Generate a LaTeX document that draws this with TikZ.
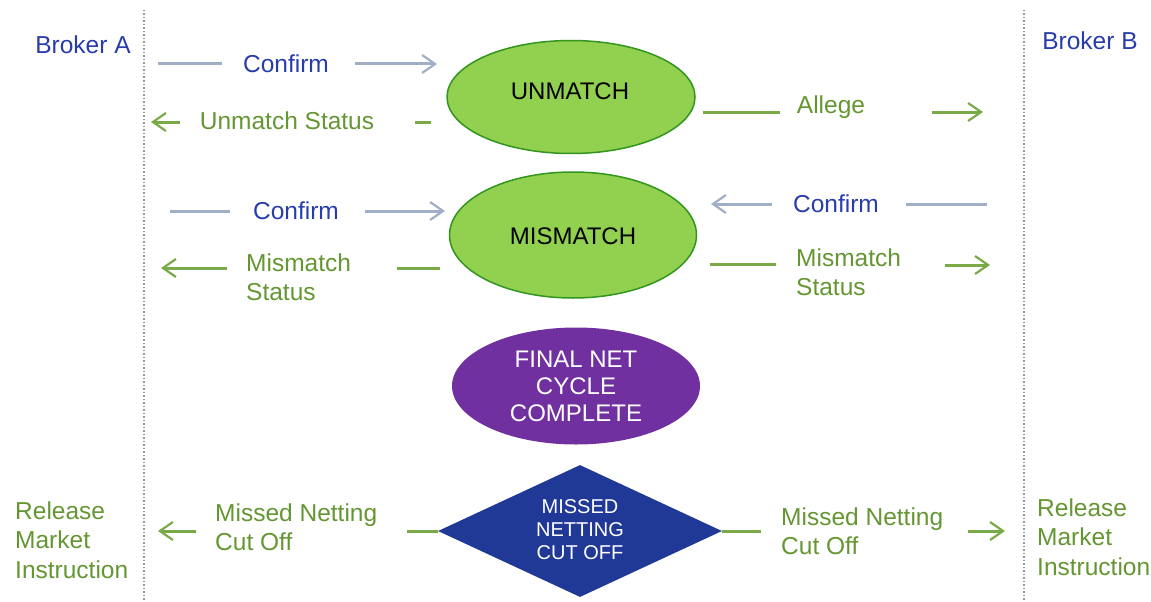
\documentclass[tikz,border=0pt]{standalone}
\usepackage{fontspec}
\setmainfont{Liberation Sans}
\usetikzlibrary{shapes.geometric,arrows.meta}
\definecolor{btxt}{RGB}{40,60,170}
\definecolor{gtxt}{RGB}{100,150,50}
\definecolor{bline}{RGB}{160,175,198}
\definecolor{gline}{RGB}{122,170,72}
\definecolor{egreen}{RGB}{146,208,80}
\definecolor{eborder}{RGB}{50,150,30}
\definecolor{epurple}{RGB}{112,48,160}
\definecolor{dblue}{RGB}{32,56,150}
\definecolor{dotgray}{RGB}{150,150,150}
\tikzset{
  lbl/.style={inner sep=0pt,font=\fontsize{24.5}{29}\selectfont},
  bluelbl/.style={lbl,text=btxt},
  greenlbl/.style={lbl,text=gtxt,align=left},
  bseg/.style={draw=bline,line width=3pt},
  gseg/.style={draw=gline,line width=3pt},
  tip/.style={-{Straight Barb[length=13pt,width=18pt,line width=2.2pt]}},
  ellnode/.style={ellipse,inner sep=0pt,font=\fontsize{24}{27}\selectfont,align=center,line width=1.5pt},
  divider/.style={draw=dotgray,line width=1.5pt,dotted}
}
\begin{document}
\begin{tikzpicture}[x=1pt,y=-1pt]
\useasboundingbox (0,0) rectangle (1151,602);
% dividers
\coordinate (lt) at (144,10); \coordinate (lb) at (144,602);
\coordinate (rt) at (1024,10); \coordinate (rb) at (1024,602);
\draw[divider] (lt) -- (lb);
\draw[divider] (rt) -- (rb);
% shapes
\node[ellnode,fill=egreen,draw=eborder,minimum width=248pt,minimum height=113pt] (unm) at (571,97) {};
\node[lbl,font=\fontsize{24}{27}\selectfont] (unmt) at (570,91) {UNMATCH};
\node[ellnode,fill=egreen,draw=eborder,minimum width=247pt,minimum height=126pt] (mis) at (573,235) {};
\node[lbl,font=\fontsize{24}{27}\selectfont] (mist) at (573,236) {MISMATCH};
\node[ellnode,fill=epurple,minimum width=248pt,minimum height=117pt,text=white] (fin) at (576,386) {FINAL NET\\CYCLE\\COMPLETE};
\node[diamond,fill=dblue,inner sep=0pt,minimum width=284pt,minimum height=132pt] (dia) at (580,531) {};
\node[inner sep=0pt,text=white,align=center,font=\fontsize{20}{23}\selectfont] (diat) at (580,530) {MISSED\\NETTING\\CUT OFF};
% broker labels
\node[bluelbl] (ba) at (83,45) {Broker A};
\node[bluelbl] (bb) at (1090,41) {Broker B};
% row 1 confirm
\node[bluelbl] (c1) at (286,64) {Confirm};
\coordinate (c1a) at (158,64); \coordinate (c1b) at (222,64);
\coordinate (c1c) at (355,64); \coordinate (c1d) at (437,64);
\draw[bseg] (c1a) -- (c1b);
\draw[bseg,tip] (c1c) -- (c1d);
% unmatch status
\node[greenlbl] (us) at (287,121) {Unmatch Status};
\coordinate (usa) at (180,122); \coordinate (usb) at (151,122);
\coordinate (usc) at (415,122); \coordinate (usd) at (431,122);
\draw[gseg,tip] (usa) -- (usb);
\draw[gseg] (usc) -- (usd);
% allege
\node[greenlbl] (al) at (831,107) {Allege};
\coordinate (ala) at (703,112); \coordinate (alb) at (780,112);
\coordinate (alc) at (932,112); \coordinate (ald) at (983,112);
\draw[gseg] (ala) -- (alb);
\draw[gseg,tip] (alc) -- (ald);
% row 2 confirm left
\node[bluelbl] (c2) at (296,211) {Confirm};
\coordinate (c2a) at (170,211); \coordinate (c2b) at (230,211);
\coordinate (c2c) at (365,211); \coordinate (c2d) at (445,211);
\draw[bseg] (c2a) -- (c2b);
\draw[bseg,tip] (c2c) -- (c2d);
% row 2 confirm right
\node[bluelbl] (c3) at (836,204) {Confirm};
\coordinate (c3a) at (772,204); \coordinate (c3b) at (711,204);
\coordinate (c3c) at (906,204); \coordinate (c3d) at (987,204);
\draw[bseg,tip] (c3a) -- (c3b);
\draw[bseg] (c3c) -- (c3d);
% mismatch status left
\node[greenlbl,anchor=west] (ms1) at (246,277) {Mismatch\\Status};
\coordinate (ms1a) at (227,268); \coordinate (ms1b) at (161,268);
\coordinate (ms1c) at (397,268); \coordinate (ms1d) at (440,268);
\draw[gseg,tip] (ms1a) -- (ms1b);
\draw[gseg] (ms1c) -- (ms1d);
% mismatch status right
\node[greenlbl,anchor=west] (ms2) at (796,272) {Mismatch\\Status};
\coordinate (ms2a) at (710,264); \coordinate (ms2b) at (776,264);
\coordinate (ms2c) at (945,265); \coordinate (ms2d) at (990,265);
\draw[gseg] (ms2a) -- (ms2b);
\draw[gseg,tip] (ms2c) -- (ms2d);
% missed netting left
\node[greenlbl,anchor=west] (mn1) at (215,527) {Missed Netting\\Cut Off};
\coordinate (mn1a) at (196,531); \coordinate (mn1b) at (158,531);
\coordinate (mn1c) at (407,531);
\draw[gseg,tip] (mn1a) -- (mn1b);
\draw[gseg] (mn1c) -- (dia.west);
% missed netting right
\node[greenlbl,anchor=west] (mn2) at (781,531) {Missed Netting\\Cut Off};
\coordinate (mn2b) at (761,531);
\coordinate (mn2c) at (968,531); \coordinate (mn2d) at (1005,531);
\draw[gseg] (dia.east) -- (mn2b);
\draw[gseg,tip] (mn2c) -- (mn2d);
% release market instruction
\node[greenlbl,anchor=west,font=\fontsize{24.5}{29.5}\selectfont] (rl) at (15,540) {Release\\Market\\Instruction};
\node[greenlbl,anchor=west,font=\fontsize{24.5}{29.5}\selectfont] (rr) at (1037,537) {Release\\Market\\Instruction};
\end{tikzpicture}
\end{document}
